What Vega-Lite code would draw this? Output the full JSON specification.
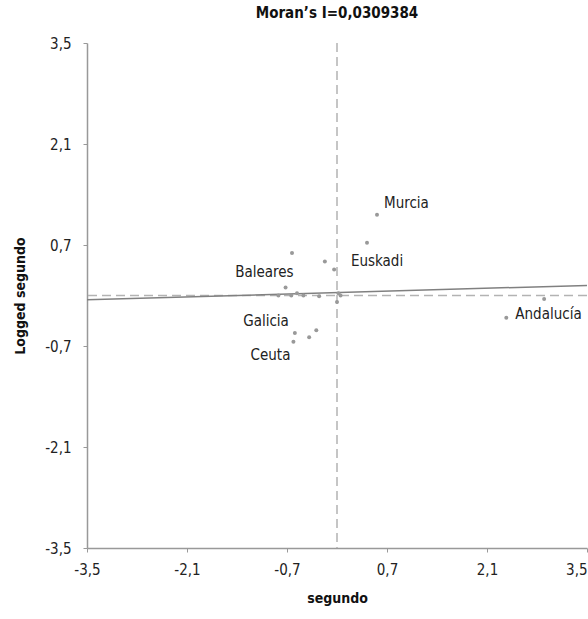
{
  "$schema": "https://vega.github.io/schema/vega-lite/v6.json",
  "autosize": "none",
  "width": 500,
  "height": 505,
  "padding": {"left": 87, "top": 43, "right": 1, "bottom": 71},
  "background": "white",
  "title": {
    "text": "Moran’s I=0,0309384",
    "font": "DejaVu Sans Condensed, sans-serif",
    "fontSize": 15,
    "fontWeight": "bold",
    "color": "#111",
    "anchor": "middle",
    "offset": 15
  },
  "config": {
    "view": {"stroke": null},
    "font": "DejaVu Sans Condensed, sans-serif"
  },
  "datasets": {
    "points": [
      {"name": "Murcia", "x": 0.56, "y": 1.12},
      {"name": "Euskadi", "x": 0.42, "y": 0.73},
      {"name": "", "x": -0.63, "y": 0.59},
      {"name": "", "x": -0.17, "y": 0.47},
      {"name": "", "x": -0.04, "y": 0.36},
      {"name": "Baleares", "x": -0.72, "y": 0.11},
      {"name": "", "x": -0.82, "y": 0.0},
      {"name": "", "x": -0.64, "y": 0.0},
      {"name": "", "x": -0.56, "y": 0.03},
      {"name": "", "x": -0.47, "y": 0.0},
      {"name": "", "x": -0.25, "y": -0.01},
      {"name": "", "x": 0.02, "y": 0.03},
      {"name": "", "x": 0.05, "y": 0.0},
      {"name": "", "x": 0.0, "y": -0.09},
      {"name": "Galicia", "x": -0.59, "y": -0.52},
      {"name": "", "x": -0.29, "y": -0.48},
      {"name": "", "x": -0.39, "y": -0.58},
      {"name": "Ceuta", "x": -0.61, "y": -0.64},
      {"name": "", "x": 2.9, "y": -0.05},
      {"name": "Andalucía", "x": 2.37, "y": -0.31}
    ],
    "fit": [
      {"x": -3.5, "y": -0.06},
      {"x": 3.5, "y": 0.14}
    ],
    "origin": [{"v": 0}]
  },
  "layer": [
    {
      "data": {"name": "origin"},
      "mark": {"type": "rule", "color": "#b3b3b3", "strokeWidth": 1.5, "strokeDash": [9, 5]},
      "encoding": {"x": {"field": "v", "type": "quantitative"}}
    },
    {
      "data": {"name": "origin"},
      "mark": {"type": "rule", "color": "#b3b3b3", "strokeWidth": 1.5, "strokeDash": [9, 5]},
      "encoding": {"y": {"field": "v", "type": "quantitative"}}
    },
    {
      "data": {"name": "fit"},
      "mark": {"type": "line", "color": "#808080", "strokeWidth": 1.5},
      "encoding": {
        "x": {"field": "x", "type": "quantitative"},
        "y": {"field": "y", "type": "quantitative"}
      }
    },
    {
      "data": {"name": "points"},
      "mark": {"type": "circle", "color": "#999999", "size": 16, "opacity": 1},
      "encoding": {
        "x": {
          "field": "x", "type": "quantitative",
          "scale": {"domain": [-3.5, 3.5], "nice": false, "zero": false},
          "axis": {
            "title": "segundo",
            "values": [-3.5, -2.1, -0.7, 0.7, 2.1, 3.5],
            "labelExpr": "replace(toString(datum.value), '.', ',')",
            "labelFlush": false,
            "labelAlign": {"condition": {"test": "datum.value == 3.5", "value": "right"}, "value": "center"},
            "grid": false,
            "domainColor": "#999999",
            "domainWidth": 1.5,
            "tickColor": "#999999",
            "tickSize": 4,
            "labelFontSize": 15,
            "labelColor": "#222",
            "labelPadding": 10,
            "titleFontSize": 14,
            "titleFontWeight": "bold",
            "titleColor": "#111",
            "titlePadding": 14
          }
        },
        "y": {
          "field": "y", "type": "quantitative",
          "scale": {"domain": [-3.5, 3.5], "nice": false, "zero": false},
          "axis": {
            "title": "Logged segundo",
            "values": [-3.5, -2.1, -0.7, 0.7, 2.1, 3.5],
            "labelExpr": "replace(toString(datum.value), '.', ',')",
            "labelFlush": false,
            "grid": false,
            "domainColor": "#999999",
            "domainWidth": 1.5,
            "tickColor": "#999999",
            "tickSize": 4,
            "labelFontSize": 15,
            "labelColor": "#222",
            "labelPadding": 12,
            "titleFontSize": 14,
            "titleFontWeight": "bold",
            "titleColor": "#111",
            "titlePadding": 17
          }
        }
      }
    },
    {
      "data": {"name": "points"},
      "transform": [{"filter": "datum.name == 'Murcia'"}],
      "mark": {"type": "text", "align": "left", "baseline": "middle", "dx": 7, "dy": -12, "fontSize": 15, "color": "#222"},
      "encoding": {
        "x": {"field": "x", "type": "quantitative"},
        "y": {"field": "y", "type": "quantitative"},
        "text": {"field": "name"}
      }
    },
    {
      "data": {"name": "points"},
      "transform": [{"filter": "datum.name == 'Andalucía'"}],
      "mark": {"type": "text", "align": "left", "baseline": "middle", "dx": 9, "dy": -4, "fontSize": 15, "color": "#222"},
      "encoding": {
        "x": {"field": "x", "type": "quantitative"},
        "y": {"field": "y", "type": "quantitative"},
        "text": {"field": "name"}
      }
    },
    {
      "data": {"name": "points"},
      "transform": [{"filter": "datum.name == 'Euskadi'"}],
      "mark": {"type": "text", "align": "center", "baseline": "middle", "dx": 10, "dy": 18, "fontSize": 15, "color": "#222"},
      "encoding": {
        "x": {"field": "x", "type": "quantitative"},
        "y": {"field": "y", "type": "quantitative"},
        "text": {"field": "name"}
      }
    },
    {
      "data": {"name": "points"},
      "transform": [{"filter": "datum.name == 'Baleares'"}],
      "mark": {"type": "text", "align": "right", "baseline": "middle", "dx": 8, "dy": -16, "fontSize": 15, "color": "#222"},
      "encoding": {
        "x": {"field": "x", "type": "quantitative"},
        "y": {"field": "y", "type": "quantitative"},
        "text": {"field": "name"}
      }
    },
    {
      "data": {"name": "points"},
      "transform": [{"filter": "datum.name == 'Galicia'"}],
      "mark": {"type": "text", "align": "right", "baseline": "middle", "dx": -6, "dy": -12, "fontSize": 15, "color": "#222"},
      "encoding": {
        "x": {"field": "x", "type": "quantitative"},
        "y": {"field": "y", "type": "quantitative"},
        "text": {"field": "name"}
      }
    },
    {
      "data": {"name": "points"},
      "transform": [{"filter": "datum.name == 'Ceuta'"}],
      "mark": {"type": "text", "align": "right", "baseline": "middle", "dx": -3, "dy": 13, "fontSize": 15, "color": "#222"},
      "encoding": {
        "x": {"field": "x", "type": "quantitative"},
        "y": {"field": "y", "type": "quantitative"},
        "text": {"field": "name"}
      }
    }
  ]
}
